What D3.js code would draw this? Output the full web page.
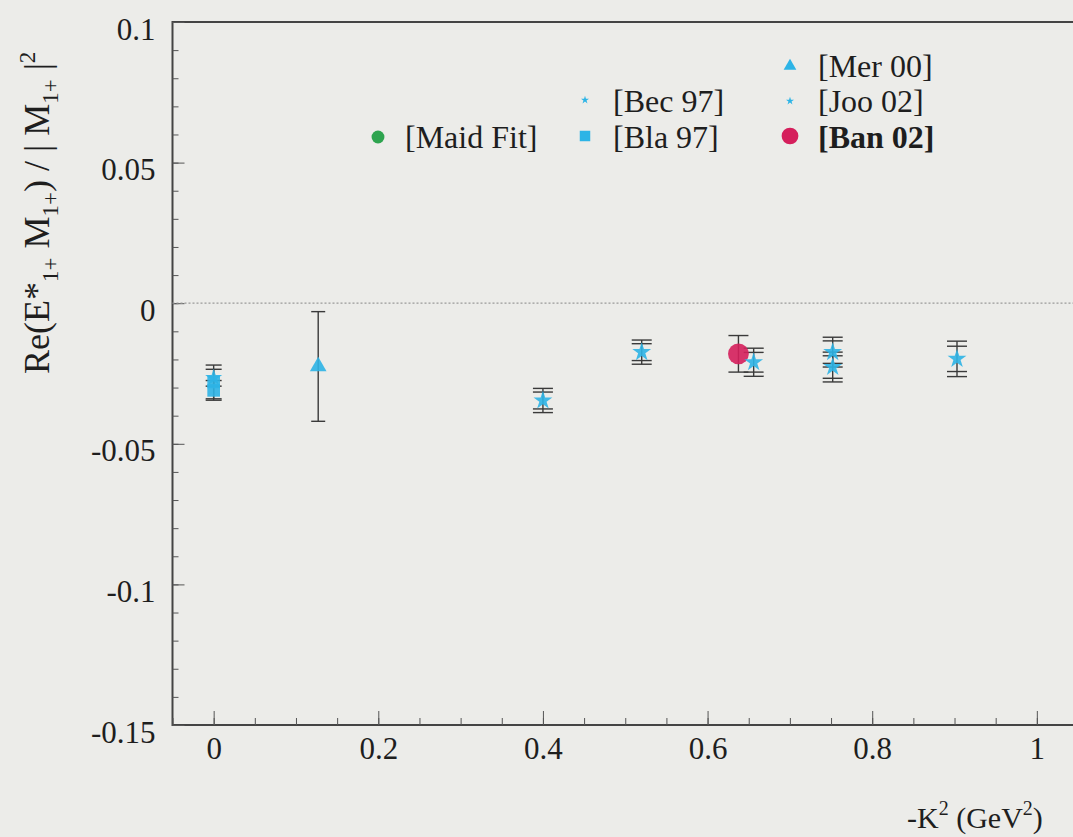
<!DOCTYPE html>
<html>
<head>
<meta charset="utf-8">
<script src="https://cdn.jsdelivr.net/npm/d3@7"></script>
<style>
  body { margin: 0; background: #ecece9; }
  svg { display: block; }
  text { font-family: "Liberation Serif", "Times New Roman", serif; fill: #1e1e1e; }
</style>
</head>
<body>
<svg id="chart" width="1073" height="837"></svg>
<script>
// --- data ---
// [Bla 97]
const blaQ2 = [0, 0];
const blaR = [-0.028, -0.031];
const blaErr = [0.006, 0.0035];
// [Bec 97]
const becQ2 = [0];
const becR = [-0.0265];
const becErr = [0.003];
// [Mer 00]
const merQ2 = [0.127];
const merR = [-0.0225];
const merErr = [0.0195];
// [Joo 02]
const jooQ2 = [0.4, 0.52, 0.656, 0.752, 0.752, 0.903];
const jooR = [-0.0346, -0.0174, -0.021, -0.0174, -0.0227, -0.0198];
const jooStat = [0.003, 0.003, 0.0035, 0.004, 0.004, 0.0045];
const jooTot = [0.0043, 0.0043, 0.005, 0.0053, 0.0053, 0.0063];
// [Ban 02]
const banQ2 = [0.6375];
const banR = [-0.018];
const banErr = [0.0065];

const xTicks = [0, 0.2, 0.4, 0.6, 0.8, 1];
const yTicks = [-0.15, -0.1, -0.05, 0, 0.05, 0.1];

const cyan = "#2db4e6", red = "#d51f5c", green = "#2ea44f", ink = "#3a3a3a";

const svg = d3.select("#chart");

const x = d3.scaleLinear().domain([-0.05, 1.05]).range([172.5, 1078]);
const y = d3.scaleLinear().domain([-0.15, 0.1]).range([725, 22]);

// frame (right edge is outside the picture)
svg.append("rect")
    .attr("x", x(-0.05)).attr("y", y(0.1))
    .attr("width", x(1.05) - x(-0.05)).attr("height", y(-0.15) - y(0.1))
    .attr("fill", "none").attr("stroke", "#444").attr("stroke-width", 2);

// minor ticks
svg.append("g")
    .attr("transform", "translate(0," + y(-0.15) + ")")
    .call(d3.axisBottom(x).tickValues(d3.range(-0.05, 1.051, 0.05)).tickSize(-7).tickFormat(""))
    .call(g => g.select(".domain").remove())
    .selectAll("line").attr("stroke", "#555");

svg.append("g")
    .attr("transform", "translate(" + x(-0.05) + ",0)")
    .call(d3.axisLeft(y).tickValues(d3.range(-0.15, 0.1001, 0.01)).tickSize(-6).tickFormat(""))
    .call(g => g.select(".domain").remove())
    .selectAll("line").attr("stroke", "#555");

// major ticks + labels (plain hyphen for negatives, like the original)
const fmt = d => String(+d.toFixed(2));

const xAxis = svg.append("g")
    .attr("transform", "translate(0," + y(-0.15) + ")")
    .call(d3.axisBottom(x).tickValues(xTicks).tickSize(-14).tickPadding(12).tickFormat(fmt));
xAxis.select(".domain").remove();
xAxis.selectAll("line").attr("stroke", "#555");
xAxis.selectAll("text").attr("font-size", 31).attr("fill", "#1e1e1e")
    .style("font-family", "Liberation Serif");

const yAxis = svg.append("g")
    .attr("transform", "translate(" + x(-0.05) + ",0)")
    .call(d3.axisLeft(y).tickValues(yTicks).tickSize(-12).tickPadding(17).tickFormat(fmt));
yAxis.select(".domain").remove();
yAxis.selectAll("line").attr("stroke", "#555");
yAxis.selectAll("text").attr("font-size", 31).attr("dy", "0.55em").attr("fill", "#1e1e1e")
    .style("font-family", "Liberation Serif");

// zero line
svg.append("line")
    .attr("x1", x(-0.05)).attr("x2", x(1.05))
    .attr("y1", y(0)).attr("y2", y(0))
    .attr("stroke", "#999").attr("stroke-width", 1.2).attr("stroke-dasharray", "2,2");

// error bars
function errorBars(q2, r, lo, hi, capW) {
    const pts = q2.map((q, i) => ({ q, r: r[i], lo: lo[i], hi: hi ? hi[i] : null }));
    const g = svg.append("g").attr("stroke", ink).attr("stroke-width", 1.4);
    g.selectAll("line.bar").data(pts).enter().append("line")
        .attr("x1", d => x(d.q)).attr("x2", d => x(d.q))
        .attr("y1", d => y(d.r + Math.max(d.lo, d.hi || 0)))
        .attr("y2", d => y(d.r - Math.max(d.lo, d.hi || 0)));
    const caps = [];
    pts.forEach(d => {
        [d.lo, d.hi].forEach(e => {
            if (e == null) return;
            caps.push({ q: d.q, v: d.r + e });
            caps.push({ q: d.q, v: d.r - e });
        });
    });
    g.selectAll("line.cap").data(caps).enter().append("line")
        .attr("x1", d => x(d.q) - capW).attr("x2", d => x(d.q) + capW)
        .attr("y1", d => y(d.v)).attr("y2", d => y(d.v));
}

errorBars(becQ2, becR, becErr, null, 8);
errorBars(blaQ2, blaR, blaErr, null, 8);
errorBars(merQ2, merR, merErr, null, 7);
errorBars(jooQ2, jooR, jooStat, jooTot, 10);
errorBars(banQ2, banR, banErr, null, 10);

// markers
function markers(q2, r, type, size, color) {
    svg.append("g").selectAll("path")
        .data(q2.map((q, i) => ({ q, r: r[i] })))
        .enter().append("path")
        .attr("transform", d => "translate(" + x(d.q) + "," + y(d.r) + ")")
        .attr("d", d3.symbol().type(type).size(size))
        .attr("fill", color).attr("fill-opacity", 0.9);
}

markers(becQ2, becR, d3.symbolStar, 90, cyan);
markers(blaQ2, blaR, d3.symbolSquare, 160, cyan);
markers(merQ2, merR, d3.symbolTriangle, 120, cyan);
markers(banQ2, banR, d3.symbolCircle, 340, red);
markers(jooQ2, jooR, d3.symbolStar, 110, cyan);

// legend
const legend = [
    { label: "[Mer 00]", type: d3.symbolTriangle, size: 70, color: cyan, mx: 790, my: 66, tx: 818, ty: 77 },
    { label: "[Bec 97]", type: d3.symbolStar, size: 20, color: cyan, mx: 585, my: 100, tx: 613, ty: 112 },
    { label: "[Joo 02]", type: d3.symbolStar, size: 20, color: cyan, mx: 790, my: 101, tx: 818, ty: 112 },
    { label: "[Maid Fit]", type: d3.symbolCircle, size: 130, color: green, mx: 378, my: 137, tx: 405, ty: 148 },
    { label: "[Bla 97]", type: d3.symbolSquare, size: 110, color: cyan, mx: 585, my: 136, tx: 613, ty: 148 },
    { label: "[Ban 02]", type: d3.symbolCircle, size: 220, color: red, mx: 790, my: 136, tx: 818, ty: 148, bold: true }
];
const lg = svg.append("g").selectAll("g").data(legend).enter().append("g");
lg.append("path")
    .attr("transform", d => "translate(" + d.mx + "," + d.my + ")")
    .attr("d", d => d3.symbol().type(d.type).size(d.size)())
    .attr("fill", d => d.color);
lg.append("text")
    .attr("x", d => d.tx).attr("y", d => d.ty)
    .attr("font-size", 32)
    .attr("font-weight", d => d.bold ? "bold" : "normal")
    .text(d => d.label);

// axis titles
const yt = svg.append("text")
    .attr("transform", "translate(49,374) rotate(-90)")
    .attr("font-size", 36);
yt.append("tspan").text("Re(E*");
yt.append("tspan").attr("font-size", 23).attr("dy", 9).text("1+");
yt.append("tspan").attr("dy", -9).text(" M");
yt.append("tspan").attr("font-size", 23).attr("dy", 9).text("1+");
yt.append("tspan").attr("dy", -9).text(") / | M");
yt.append("tspan").attr("font-size", 23).attr("dy", 9).text("1+");
yt.append("tspan").attr("dy", -9).text(" |");
yt.append("tspan").attr("font-size", 23).attr("dy", -14).text("2");

const xt = svg.append("text")
    .attr("x", 907).attr("y", 828)
    .attr("font-size", 30);
xt.append("tspan").text("-K");
xt.append("tspan").attr("font-size", 20).attr("dy", -13).text("2");
xt.append("tspan").attr("dy", 13).text(" (GeV");
xt.append("tspan").attr("font-size", 20).attr("dy", -13).text("2");
xt.append("tspan").attr("dy", 13).text(")");
</script>
</body>
</html>
